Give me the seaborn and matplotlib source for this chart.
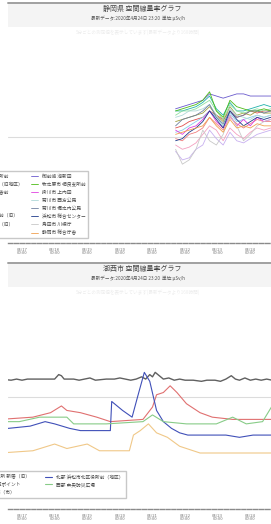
import numpy as np
import pandas as pd
import matplotlib
matplotlib.use("Agg")
import matplotlib.pyplot as plt
from matplotlib.patches import Rectangle
from matplotlib.lines import Line2D
import seaborn as sns

# --- data (nSv/h, x = hours from first tick) ---
tick_pos = [0, 24, 48, 72, 96, 120, 144, 168]
tick_labels = ["04/17\n00:00", "04/18\n00:00", "04/19\n00:00", "04/20\n00:00",
               "04/21\n00:00", "04/22\n00:00", "04/23\n00:00", "04/24\n00:00"]

# upper chart: 16 stations, data only in last ~3 days
top_x = [113, 118, 123, 128, 133, 138, 143, 148, 153, 158, 163, 168, 173, 178, 183]
top_names = ["静岡県東部 伊豆市修善寺支所前", "静岡県中部 藤枝市岡部支所（旧地区）", "静岡県中部 焼津市大井川庁舎前",
             "静岡県東部 富士市本市場", "静岡県東部 沼津市高島",
             "静岡県西部 袋井市浅羽支所前（旧）", "静岡県西部 湖西市新居地区（旧）", "静岡県東部 伊東市大原",
             "御前崎 池新田", "牧之原市 相良支所前", "掛川市 上内田", "菊川市 西方公民",
             "菊川市 堀之内公民", "浜松市 総合センター", "島田市 川根庁", "静岡市 総合庁舎"]
top_colors = ["#20b2aa", "#e05050", "#f4a0c0", "#c8b0f0", "#a0a040", "#90e0a0", "#f08080", "#87ceeb",
              "#6a5acd", "#4cbb17", "#e040e0", "#b0d8d8", "#7080a0", "#1e3a8a", "#c8c8c8", "#f0a050"]
top_vals = [
    [62, 62, 63, 64, 66, 69, 63, 60, 66, 62, 62, 63, 64, 65, 64],
    [54, 55, 57, 58, 59, 62, 60, 58, 62, 59, 60, 62, 61, 62, 62],
    [46, 44, 45, 47, 51, 55, 53, 48, 54, 51, 49, 52, 54, 53, 54],
    [43, 39, 40, 44, 46, 53, 49, 46, 52, 48, 47, 49, 51, 52, 53],
    [57, 58, 59, 60, 61, 64, 60, 57, 64, 60, 61, 60, 62, 61, 61],
    [60, 62, 62, 63, 65, 67, 62, 58, 65, 62, 61, 62, 63, 62, 63],
    [49, 48, 51, 52, 54, 59, 56, 53, 59, 56, 54, 56, 58, 57, 57],
    [52, 53, 55, 57, 59, 62, 59, 55, 61, 57, 58, 59, 60, 59, 60],
    [63, 64, 65, 66, 67, 70, 69, 68, 69, 70, 70, 69, 69, 69, 69],
    [62, 63, 64, 65, 67, 71, 62, 59, 67, 64, 63, 62, 62, 63, 62],
    [53, 51, 54, 55, 58, 62, 57, 54, 60, 55, 58, 55, 59, 57, 58],
    [59, 60, 62, 62, 63, 65, 60, 55, 63, 60, 59, 58, 60, 59, 60],
    [55, 58, 59, 60, 62, 65, 59, 56, 62, 59, 60, 62, 62, 61, 62],
    [48, 49, 52, 54, 57, 62, 58, 54, 62, 58, 55, 57, 59, 58, 59],
    [44, 37, 39, 44, 53, 48, 46, 51, 60, 55, 48, 51, 55, 57, 58],
    [51, 52, 53, 54, 55, 59, 55, 52, 58, 54, 55, 54, 56, 55, 55],
]

# lower chart: 5 stations
gray_x = [-16, -8, -4, 0, 4, 10, 18, 24, 27, 29, 31, 38, 42, 46, 50, 54, 62, 68, 72, 76,
          80, 84, 88, 91, 94, 96, 98, 101, 104, 108, 112, 116, 120, 126, 132, 136, 142, 146, 150, 154,
          157, 160, 164, 168, 172, 176, 180, 184]
gray_y = [58, 57.5, 58, 57.5, 58, 58, 58, 58, 60, 59.5, 58, 58, 57.5, 58, 58.5, 57.5, 58, 58, 58.5, 58,
          57.5, 58, 59, 58, 60, 59, 61, 59.5, 58, 58.5, 57.5, 58, 57.5, 57.5, 57, 57.5, 57.5, 57, 58, 59.5,
          58, 57.5, 58.5, 57.5, 58, 57.5, 58, 57.5]
blue_x = [-16, -10, 6, 17, 24, 35, 43, 62, 65, 66, 74, 81, 85, 90, 94, 99, 104, 110, 116, 122, 129, 140, 150, 160, 170, 184]
blue_y = [36, 36, 37, 39, 38, 36, 35, 35, 35, 48, 44, 41, 50, 61, 57, 44, 39, 36, 34, 33, 33, 33, 33, 32, 33, 33]
red_x = [-16, 8, 21, 29, 33, 43, 55, 65, 89, 96, 99, 104, 109, 114, 121, 131, 140, 155, 184]
red_y = [40, 41, 43, 46, 44, 43, 41, 39, 40, 45.5, 51, 52, 55, 52, 47, 43, 41, 40, 40]
green_x = [-16, -2, 13, 33, 38, 62, 89, 96, 104, 121, 143, 155, 165, 177, 184]
green_y = [39, 39, 41, 41, 38, 38, 39, 42, 39, 38, 38, 41, 38, 39, 46]
orange_x = [-16, 8, 24, 33, 48, 57, 79, 82, 87, 93, 99, 107, 116, 131, 184]
orange_y = [25, 26, 29, 27, 29, 26, 26, 33, 35, 38, 34, 32, 28, 25, 25]

bot_series = [
    ("湖西市中心部 湖西市役所 新居（旧）", "#606060", gray_x, gray_y),
    ("湖西市北部 白須賀 測定ポイント", "#e07070", red_x, red_y),
    ("湖西市南部 鷲津小学校（市）", "#f0c888", orange_x, orange_y),
    ("北部 浜松市北区役所前（地区）", "#4050b8", blue_x, blue_y),
    ("西部 中央防災広場", "#88cc88", green_x, green_y),
]

titles = ["静岡県 空間線量率グラフ", "湖西市 空間線量率グラフ"]
subtitle = "最新データ:2020年4月24日 23:20  単位:μSv/h"

# --- drawing ---
sns.set_style("white")
plt.rcParams['font.family'] = ['Noto Sans CJK JP', 'DejaVu Sans']

W, H = 271, 524
fig = plt.figure(figsize=(W / 100, H / 100), dpi=100)

def fy(py):
    return 1 - py / H

# header bands and separators
for top_py in (3, 263):
    fig.add_artist(Rectangle((8 / W, fy(top_py + 24)), 1, 24 / H, transform=fig.transFigure,
                             facecolor="#f4f4f4", edgecolor="none", zorder=0))
    fig.add_artist(Line2D([8 / W, 1], [fy(top_py), fy(top_py)], transform=fig.transFigure,
                          color="#a0a0a0", lw=1.4))

def setup_axis(ax):
    ax.set_xlim(-10.3, 183.2)
    ax.set_ylim(0, 100)
    ax.set_yticks([50])
    ax.set_yticklabels([])
    ax.yaxis.grid(True, color="#dcdcdc", lw=0.8)
    ax.tick_params(axis="y", length=0)
    for s in ("top", "right", "left"):
        ax.spines[s].set_visible(False)
    ax.spines["bottom"].set_color("#8a8a8a")
    ax.spines["bottom"].set_linewidth(1.0)
    ax.spines["bottom"].set_linestyle((0, (3, 1.2)))
    ax.set_xticks(tick_pos)
    ax.set_xticklabels(tick_labels, fontsize=3.0, color="#777777", linespacing=1.1)
    ax.tick_params(axis="x", length=1.5, width=0.5, color="#8a8a8a", pad=1.5)
    ax.set_xlabel("")
    ax.set_ylabel("")
    ax.set_facecolor("none")

leg_kw = dict(ncol=2, fontsize=3.4, loc="lower right", bbox_transform=fig.transFigure,
              frameon=True, fancybox=False, edgecolor="#c8c8c8", framealpha=1,
              handlelength=1.6, handletextpad=0.7, labelspacing=0.62, borderpad=0.5,
              labelcolor="#444444")

# upper chart
ax1 = fig.add_axes([8 / W, fy(243), 263 / W, 213 / H])
for name, col, vals in zip(top_names, top_colors, top_vals):
    sns.lineplot(x=top_x, y=vals, ax=ax1, color=col, linewidth=0.6, label=name, legend=False)
setup_axis(ax1)
ax1.legend(bbox_to_anchor=(90 / W, fy(240)), columnspacing=1.7, **leg_kw)

# lower chart
ax2 = fig.add_axes([8 / W, fy(509), 263 / W, 224 / H])
for name, col, xs, ys in bot_series:
    lw = 1.0 if col == "#606060" else 0.8
    sns.lineplot(x=xs, y=ys, ax=ax2, color=col, linewidth=lw, label=name, legend=False)
setup_axis(ax2)
ax2.legend(bbox_to_anchor=(128 / W, fy(500)), columnspacing=3.2, **leg_kw)

# titles
for top_py, t in zip((3, 263), titles):
    fig.text(142 / W, fy(top_py + 6), t, ha="center", va="center", fontsize=5.0, color="#444444")
    fig.text(138 / W, fy(top_py + 15), subtitle, ha="center", va="center", fontsize=3.3, color="#555555")
    fig.text(138 / W, fy(top_py + 29), "5分ごとの測定値を表示しています(最新データより168時間)",
             ha="center", va="center", fontsize=3.3, color="#ececec")

fig.savefig("out.png", dpi=100)
